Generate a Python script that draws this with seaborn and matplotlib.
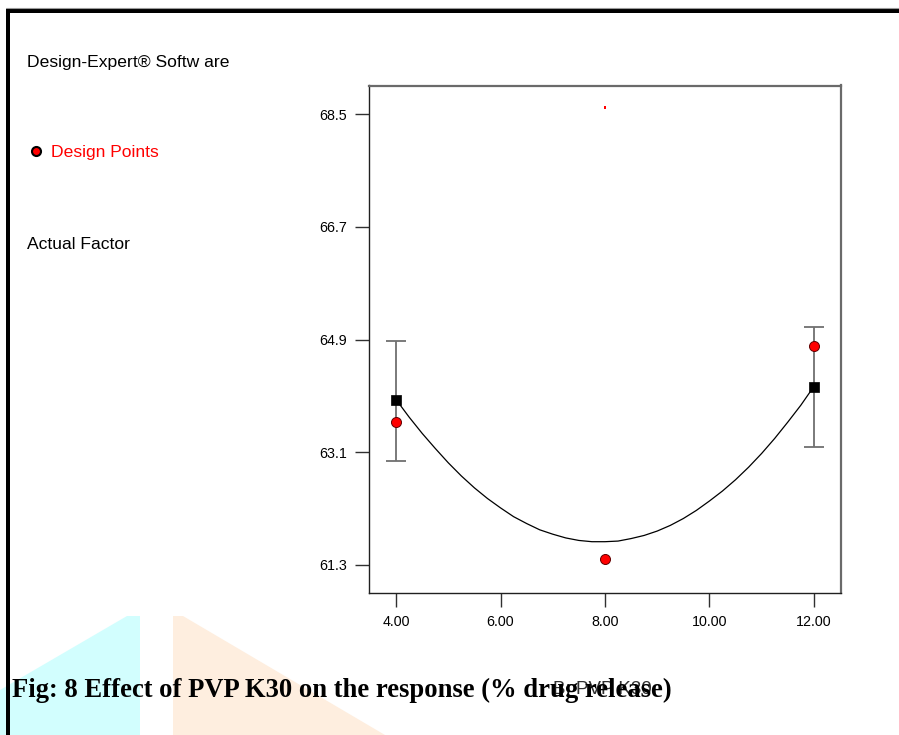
import numpy as np
import pandas as pd
import matplotlib
matplotlib.use("Agg")
import matplotlib.pyplot as plt
import seaborn as sns
from matplotlib.patches import Polygon, Rectangle
from matplotlib.lines import Line2D

# ---------------- data ----------------
xtick_vals = [4.0, 6.0, 8.0, 10.0, 12.0]
xtick_labels = ["4.00", "6.00", "8.00", "10.00", "12.00"]
ytick_vals = [61.3, 63.1, 64.9, 66.7, 68.5]
ytick_labels = ["61.3", "63.1", "64.9", "66.7", "68.5"]

design_x = [4.0, 8.0, 12.0]
design_y = [63.58, 61.39, 64.79]
offscale_x = [8.0]
offscale_y = [68.61]

mean_x = [4.0, 12.0]
mean_y = [63.94, 64.15]
ci_low = [62.96, 63.18]
ci_high = [64.88, 65.10]

curve_x = [4.0, 4.25, 4.5, 4.75, 5.0, 5.25, 5.5, 5.75, 6.0, 6.25, 6.5, 6.75,
           7.0, 7.25, 7.5, 7.75, 8.0, 8.25, 8.5, 8.75, 9.0, 9.25, 9.5, 9.75,
           10.0, 10.25, 10.5, 10.75, 11.0, 11.25, 11.5, 11.75, 12.0]
curve_y = [63.94, 63.66, 63.40, 63.16, 62.93, 62.72, 62.53, 62.36, 62.21,
           62.07, 61.96, 61.86, 61.79, 61.73, 61.69, 61.67, 61.67, 61.68,
           61.72, 61.77, 61.84, 61.93, 62.04, 62.17, 62.32, 62.48, 62.66,
           62.86, 63.08, 63.32, 63.58, 63.85, 64.15]

title_text = "Fig: 8 Effect of PVP K30 on the response (% drug release)"
xlabel_text = "B: PVP K30"

# ---------------- figure ----------------
W, H = 899, 735
sns.set_style("white")
plt.rcParams["font.family"] = ["Liberation Sans", "DejaVu Sans"]

fig = plt.figure(figsize=(W / 100, H / 100), dpi=100)
fig.patch.set_facecolor("white")


def fx(x):
    return x / W


def fy(y):
    return 1 - y / H


# watermark shapes (background)
cyan = Polygon([(fx(0), fy(690)), (fx(127), fy(616)), (fx(140), fy(616)),
                (fx(140), fy(735)), (fx(0), fy(735))],
               closed=True, transform=fig.transFigure, facecolor="#d2fefe",
               edgecolor="none", zorder=0)
orange = Polygon([(fx(173), fy(616)), (fx(183), fy(616)), (fx(385), fy(735)),
                  (fx(173), fy(735))],
                 closed=True, transform=fig.transFigure, facecolor="#feeedf",
                 edgecolor="none", zorder=0)
fig.add_artist(cyan)
fig.add_artist(orange)

# black frame (top and left)
fig.add_artist(Rectangle((fx(6), fy(13)), fx(W) - fx(6), fy(9) - fy(13),
                         transform=fig.transFigure, facecolor="black",
                         edgecolor="none", zorder=1))
fig.add_artist(Line2D([fx(6), fx(W)], [fy(8.3), fy(8.3)], transform=fig.transFigure,
                      color="#9a9a9a", lw=0.8, zorder=1))
fig.add_artist(Rectangle((fx(6), fy(H)), fx(10) - fx(6), fy(9) - fy(H),
                         transform=fig.transFigure, facecolor="black",
                         edgecolor="none", zorder=1))

# axes
ax_left, ax_right, ax_top, ax_bottom = 368.7, 841.0, 85.5, 592.7
ax = fig.add_axes([fx(ax_left), fy(ax_bottom), fx(ax_right) - fx(ax_left),
                   fy(ax_top) - fy(ax_bottom)])
ax.set_facecolor("white")
ax.patch.set_alpha(0.0)

curve_df = pd.DataFrame({"x": curve_x, "y": curve_y})
sns.lineplot(data=curve_df, x="x", y="y", ax=ax, color="black", lw=0.9,
             estimator=None, sort=True, zorder=2)

ax.errorbar(mean_x, mean_y,
            yerr=[np.array(mean_y) - np.array(ci_low),
                  np.array(ci_high) - np.array(mean_y)],
            fmt="none", ecolor="#707070", elinewidth=1.3, capsize=7.5,
            capthick=1.3, zorder=3)

mean_df = pd.DataFrame({"x": mean_x, "y": mean_y})
sns.scatterplot(data=mean_df, x="x", y="y", ax=ax, marker="s", s=42,
                color="black", edgecolor="black", linewidth=0.5, zorder=4)

design_df = pd.DataFrame({"x": design_x, "y": design_y})
sns.scatterplot(data=design_df, x="x", y="y", ax=ax, marker="o", s=52,
                color="#ff0000", edgecolor="#600000", linewidth=0.7, zorder=5)

off_df = pd.DataFrame({"x": offscale_x, "y": offscale_y})
sns.scatterplot(data=off_df, x="x", y="y", ax=ax, marker="s", s=3,
                color="#ff0000", edgecolor="none", zorder=5)

ax.set_xlim(3.475, 12.52)
ax.set_ylim(60.855, 68.96)
ax.set_xticks(xtick_vals)
ax.set_xticklabels(xtick_labels)
ax.set_yticks(ytick_vals)
ax.set_yticklabels(ytick_labels)
ax.set_xlabel("")
ax.set_ylabel("")
ax.tick_params(axis="both", direction="out", length=10, width=1.0,
               color="#303030", labelsize=10.3, pad=5.5, labelcolor="black")
ax.tick_params(axis="x", bottom=True, pad=6)
ax.tick_params(axis="y", left=True)
for side in ["left", "bottom"]:
    ax.spines[side].set_color("#202020")
    ax.spines[side].set_linewidth(1.0)
for side in ["top", "right"]:
    ax.spines[side].set_color("#6a6a6a")
    ax.spines[side].set_linewidth(1.6)

# left-hand annotation texts
fig.text(fx(27), fy(62), "Design-Expert® Softw are", fontsize=12.6,
         ha="left", va="center", color="black")
fig.add_artist(Line2D([fx(36)], [fy(151)], transform=fig.transFigure,
                      marker="o", markersize=6.5, markerfacecolor="#ff0000",
                      markeredgecolor="black", markeredgewidth=1.5, ls="none"))
fig.text(fx(51), fy(153), "Design Points", fontsize=12.6, ha="left",
         va="center", color="#ff0000")
fig.text(fx(27), fy(245), "Actual Factor", fontsize=12.6, ha="left",
         va="center", color="black")

# x-axis label (overlapped by the caption, as in the reference)
fig.text(fx(602), fy(690), xlabel_text, fontsize=13.5, ha="center",
         va="center", color="#303030", zorder=3)

# caption
fig.text(fx(12), fy(697), title_text, fontsize=19.2, fontweight="bold",
         family=["Liberation Serif", "DejaVu Serif"], ha="left",
         va="baseline", color="black", zorder=4)

fig.savefig("out.png", dpi=100, facecolor="white")
